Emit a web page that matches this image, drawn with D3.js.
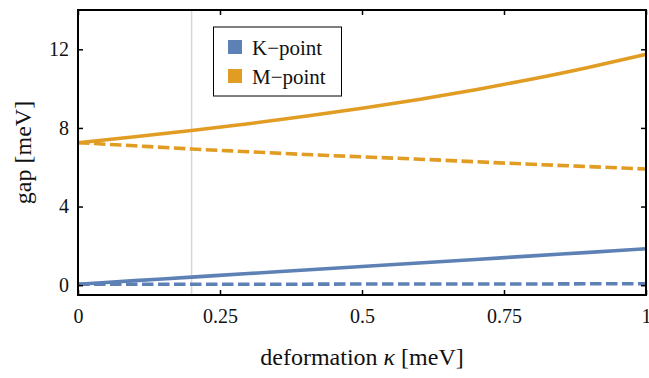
<!DOCTYPE html>
<html>
<head>
<meta charset="utf-8">
<script src="https://cdn.jsdelivr.net/npm/d3@7"></script>
<style>
  body { margin: 0; background: #fff; }
</style>
</head>
<body>
<div class="chart"></div>
<script>
// deformation kappa values
var kappa = [0, 0.1, 0.2, 0.3, 0.4, 0.5, 0.6, 0.7, 0.8, 0.9, 1];

// gap values
var kSolid = [0.05, 0.23, 0.41, 0.59, 0.77, 0.95, 1.13, 1.31, 1.49, 1.67, 1.85];
var kDashed = [0.05, 0.05, 0.05, 0.05, 0.05, 0.06, 0.06, 0.06, 0.06, 0.07, 0.07];
var mSolid = [7.25, 7.55, 7.87, 8.215, 8.59, 9.0, 9.45, 9.945, 10.49, 11.09, 11.75];
var mDashed = [7.25, 7.09, 6.93, 6.79, 6.65, 6.53, 6.41, 6.28, 6.15, 6.03, 5.91];

var xTicks = [0, 0.25, 0.5, 0.75, 1];
var xTickLabels = ["0", "0.25", "0.5", "0.75", "1"];
var yTicks = [0, 4, 8, 12];
var legendNames = ["K\u2212point", "M\u2212point"];
var markerX = 0.2;

var svgWidth = 649;
var svgHeight = 378;

var margin = { top: 10, right: 3, bottom: 83, left: 78 };
var width = svgWidth - margin.left - margin.right;
var height = svgHeight - margin.top - margin.bottom;

var blue = "#5e81b5";
var orange = "#e19c24";
var serif = "Liberation Serif";

var svg = d3.select(".chart")
  .append("svg")
  .attr("width", svgWidth)
  .attr("height", svgHeight)
  .attr("font-family", serif);

var chartGroup = svg.append("g")
  .attr("transform", `translate(${margin.left}, ${margin.top})`);

var xScale = d3.scaleLinear().domain([0, 1]).range([0, width]);
var yScale = d3.scaleLinear().domain([-0.5, 14]).range([height, 0]);

// gray vertical marker
chartGroup.append("line")
  .attr("x1", xScale(markerX))
  .attr("x2", xScale(markerX))
  .attr("y1", 0)
  .attr("y2", height)
  .attr("stroke", "#d6d6d6")
  .attr("stroke-width", 1.5);

// lines
var line = d3.line()
  .x((d, i) => xScale(kappa[i]))
  .y(d => yScale(d))
  .curve(d3.curveNatural);

var series = [
  { values: kDashed, color: blue, dash: "11.5,4.5" },
  { values: kSolid, color: blue, dash: null },
  { values: mDashed, color: orange, dash: "11.5,4.5" },
  { values: mSolid, color: orange, dash: null }
];

chartGroup.selectAll("path.series")
  .data(series)
  .enter()
  .append("path")
  .classed("series", true)
  .attr("d", d => line(d.values))
  .attr("fill", "none")
  .attr("stroke", d => d.color)
  .attr("stroke-width", 3.6)
  .attr("stroke-dasharray", d => d.dash);

// axes with inward ticks on all four sides
var xAxis = d3.axisBottom(xScale).tickValues(xTicks)
  .tickFormat((d, i) => xTickLabels[i]).tickSizeInner(-5).tickSizeOuter(0).tickPadding(14);
var yAxis = d3.axisLeft(yScale).tickValues(yTicks)
  .tickSizeInner(-5).tickSizeOuter(0).tickPadding(9);

var gx = chartGroup.append("g")
  .attr("transform", `translate(0, ${height})`)
  .call(xAxis);
var gy = chartGroup.append("g").call(yAxis);

var gxTop = chartGroup.append("g")
  .call(d3.axisTop(xScale).tickValues(xTicks).tickFormat("").tickSizeInner(-5).tickSizeOuter(0));
var gyRight = chartGroup.append("g")
  .attr("transform", `translate(${width}, 0)`)
  .call(d3.axisRight(yScale).tickValues(yTicks).tickFormat("").tickSizeInner(-5).tickSizeOuter(0));

[gx, gy, gxTop, gyRight].forEach(function(g) {
  g.attr("font-family", serif).attr("font-size", 20);
  g.select(".domain").remove();
  g.selectAll(".tick line").attr("stroke", "#000").attr("stroke-width", 1.5);
  g.selectAll(".tick text").attr("fill", "#111");
});
gx.selectAll(".tick text").attr("dy", "0.71em");

// frame
chartGroup.append("rect")
  .attr("x", 0)
  .attr("y", 0)
  .attr("width", width)
  .attr("height", height)
  .attr("fill", "none")
  .attr("stroke", "#000")
  .attr("stroke-width", 2);

// axis titles
var xTitle = svg.append("text")
  .attr("x", margin.left + width / 2)
  .attr("y", 365)
  .attr("text-anchor", "middle")
  .attr("font-size", 24)
  .attr("fill", "#111");
xTitle.append("tspan").text("deformation ");
xTitle.append("tspan").attr("font-style", "italic").text("\u03ba");
xTitle.append("tspan").text(" [meV]");

svg.append("text")
  .attr("transform", `translate(31, ${margin.top + height / 2}) rotate(-90)`)
  .attr("text-anchor", "middle")
  .attr("font-size", 24)
  .attr("fill", "#111")
  .text("gap [meV]");

// legend
var legend = svg.append("g");
legend.append("rect")
  .attr("x", 213.5)
  .attr("y", 27)
  .attr("width", 128)
  .attr("height", 69)
  .attr("fill", "#fff")
  .attr("stroke", "#000")
  .attr("stroke-width", 1);

var items = legend.selectAll("g.item")
  .data(legendNames)
  .enter()
  .append("g")
  .classed("item", true)
  .attr("transform", (d, i) => `translate(228, ${40 + i * 29})`);

items.append("rect")
  .attr("width", 14)
  .attr("height", 14)
  .attr("fill", (d, i) => [blue, orange][i]);

items.append("text")
  .attr("x", 24)
  .attr("y", 15)
  .attr("font-size", 21)
  .attr("fill", "#111")
  .text(d => d);
</script>
</body>
</html>
